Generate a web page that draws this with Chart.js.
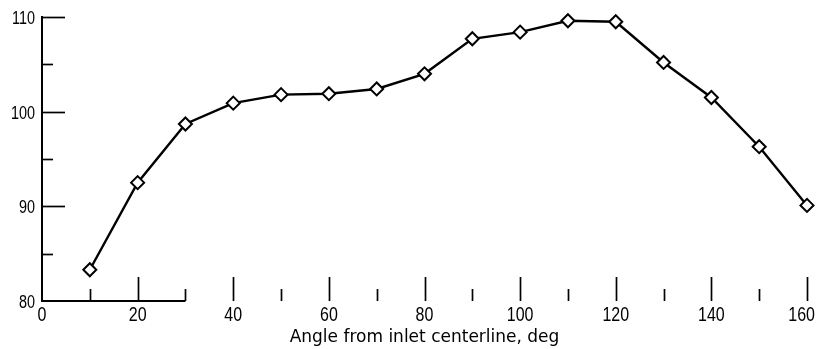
<!DOCTYPE html>
<html>
<head>
<meta charset="utf-8">
<script src="https://cdn.jsdelivr.net/npm/chart.js@4/dist/chart.umd.min.js"></script>
<style>
  html, body { margin: 0; padding: 0; background: #fff; }
  #wrap { width: 817px; height: 349px; position: relative; }
</style>
</head>
<body>
<div id="wrap"><canvas id="c"></canvas></div>
<script>
// Measured level versus angle from the inlet centerline
const angles = [10, 20, 30, 40, 50, 60, 70, 80, 90, 100, 110, 120, 130, 140, 150, 160];
const levels = [83.3, 92.5, 98.7, 100.9, 101.8, 101.9, 102.4, 104.0, 107.7, 108.4, 109.6, 109.5, 105.2, 101.5, 96.3, 90.1];

// Axis labels and tick marks
const xTickLabels = [0, 20, 40, 60, 80, 100, 120, 140, 160];
const xMinorTicks = [10, 30, 50, 70, 90, 110, 130, 150];
const yTickLabels = [80, 90, 100, 110];
const yMinorTicks = [85, 95, 105];
const xTitle = 'Angle from inlet centerline, deg';

const SQUEEZE = 0.8;
const NUM_FONT = "'Liberation Sans', Arial, sans-serif";

// Condensed numerals: a regular sans face squeezed horizontally
function drawNarrowText(ctx, text, x, y, size, align, maxRight) {
  ctx.save();
  ctx.font = size + 'px ' + NUM_FONT;
  const w = ctx.measureText(text).width * SQUEEZE;
  let left = align === 'center' ? x - w / 2 : (align === 'right' ? x - w : x);
  if (maxRight !== undefined && left + w > maxRight) left = maxRight - w;
  ctx.textAlign = 'left';
  ctx.textBaseline = 'alphabetic';
  ctx.translate(left, y);
  ctx.scale(SQUEEZE, 1);
  ctx.fillText(text, 0, 0);
  ctx.restore();
}

// Inward-pointing tick marks, numeric labels and the short baseline segment
const axisDecor = {
  id: 'axisDecor',
  afterDraw(chart) {
    const { ctx, chartArea, scales } = chart;
    const xs = scales.x, ys = scales.y;
    ctx.save();
    ctx.strokeStyle = '#000';
    ctx.fillStyle = '#000';
    ctx.lineCap = 'butt';

    // baseline from 0 to 30
    ctx.lineWidth = 2;
    ctx.beginPath();
    ctx.moveTo(xs.getPixelForValue(0) - 1, chartArea.bottom);
    ctx.lineTo(xs.getPixelForValue(30), chartArea.bottom);
    ctx.stroke();

    ctx.lineWidth = 1.7;
    const vTick = (v, len) => {
      const px = Math.round(xs.getPixelForValue(v)) + 0.5;
      ctx.beginPath();
      ctx.moveTo(px, chartArea.bottom);
      ctx.lineTo(px, chartArea.bottom - len);
      ctx.stroke();
    };
    xTickLabels.filter(v => v > 0).forEach(v => vTick(v, 24));
    xMinorTicks.forEach(v => vTick(v, 12));

    const hTick = (v, len) => {
      const py = Math.round(ys.getPixelForValue(v)) + 0.5;
      ctx.beginPath();
      ctx.moveTo(chartArea.left, py);
      ctx.lineTo(chartArea.left + len, py);
      ctx.stroke();
    };
    yTickLabels.filter(v => v > 80).forEach(v => hTick(v, 23));
    yMinorTicks.forEach(v => hTick(v, 11));

    // numeric labels
    const rightLimit = chart.width - 2;
    xTickLabels.forEach(v => {
      drawNarrowText(ctx, String(v), xs.getPixelForValue(v), chartArea.bottom + 20, 20, 'center', rightLimit);
    });
    yTickLabels.forEach(v => {
      drawNarrowText(ctx, String(v), chartArea.left - 7, ys.getPixelForValue(v) + 7, 18, 'right');
    });
    ctx.restore();
  }
};

new Chart(document.getElementById('c'), {
  type: 'line',
  data: {
    datasets: [{
      data: angles.map((a, i) => ({ x: a, y: levels[i] })),
      borderColor: '#000',
      borderWidth: 2.4,
      tension: 0,
      pointStyle: 'rectRot',
      pointRadius: 6.5,
      pointHoverRadius: 6.5,
      pointBorderWidth: 2,
      pointBackgroundColor: '#fff',
      pointBorderColor: '#000',
      clip: false
    }]
  },
  options: {
    responsive: true,
    maintainAspectRatio: false,
    animation: false,
    events: [],
    layout: { padding: { top: 17, right: 10, left: 0, bottom: 0 } },
    plugins: {
      legend: { display: false },
      tooltip: { enabled: false }
    },
    scales: {
      x: {
        type: 'linear',
        min: 0,
        max: 160,
        afterBuildTicks(scale) { scale.ticks = xTickLabels.map(v => ({ value: v })); },
        afterFit(scale) { scale.height = 48; },
        grid: { display: false, drawTicks: false },
        border: { display: false },
        ticks: { display: false },
        title: {
          display: true,
          text: xTitle,
          color: '#000',
          font: { family: "'DejaVu Sans', sans-serif", size: 17 },
          padding: { top: 0, bottom: 1 }
        }
      },
      y: {
        min: 80,
        max: 110,
        afterBuildTicks(scale) { scale.ticks = yTickLabels.map(v => ({ value: v })); },
        afterFit(scale) { scale.width = 42; },
        grid: { display: false, drawTicks: false },
        border: { display: true, color: '#000', width: 2 },
        ticks: { display: false }
      }
    }
  },
  plugins: [axisDecor]
});
</script>
</body>
</html>
